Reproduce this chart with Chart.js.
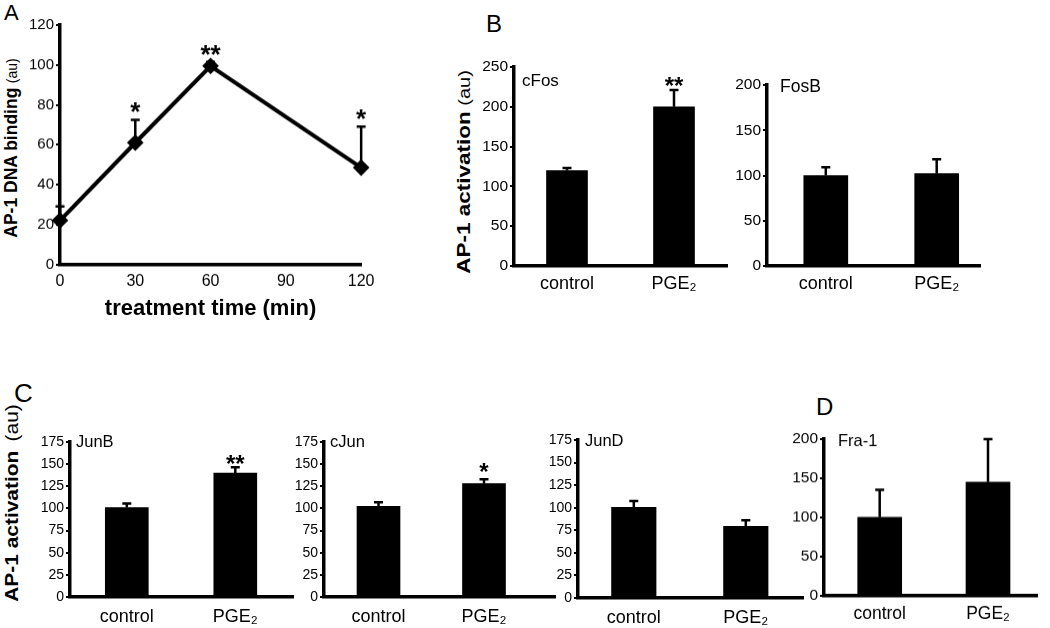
<!DOCTYPE html>
<html>
<head>
<meta charset="utf-8">
<script src="https://cdn.jsdelivr.net/npm/chart.js@4.4.1/dist/chart.umd.min.js"></script>
<style>
  body { margin: 0; background: #fff; }
  #fig { position: relative; width: 1050px; height: 628px; overflow: hidden; font-family: 'Liberation Sans', Arial, sans-serif; color: #000; }
  .box { position: absolute; }
  .letter { position: absolute; line-height: 1; }
  .ytitle { position: absolute; white-space: nowrap; line-height: 1; }
  .ytitle b { font-weight: bold; }
  .ytitle span { font-weight: normal; }
</style>
</head>
<body>
<div id="fig">
  <div class="letter" style="left:4px;top:2px;font-size:22px">A</div>
  <div class="letter" style="left:486px;top:12px;font-size:24px">B</div>
  <div class="letter" style="left:14px;top:380px;font-size:26px">C</div>
  <div class="letter" style="left:816px;top:395px;font-size:24px">D</div>

  <div class="ytitle" style="left:12px;top:148px;transform:translate(-50%,-50%) rotate(-90deg)">
    <b style="font-size:17.5px">AP-1 DNA binding</b> <span style="font-size:14px">(au)</span></div>
  <div class="ytitle" style="left:464px;top:172px;transform:translate(-50%,-50%) rotate(-90deg) scaleX(1.25)">
    <b style="font-size:18px">AP-1 activation</b> <span style="font-size:16px">(au)</span></div>
  <div class="ytitle" style="left:11px;top:503px;transform:translate(-50%,-50%) rotate(-90deg) scaleX(1.1)">
    <b style="font-size:19px">AP-1 activation</b> <span style="font-size:19px;margin-left:4px">(au)</span></div>

  <div class="box" id="boxA"><canvas id="chartA"></canvas></div>
  <div class="box" id="boxCFos"><canvas id="chartCFos"></canvas></div>
  <div class="box" id="boxFosB"><canvas id="chartFosB"></canvas></div>
  <div class="box" id="boxJunB"><canvas id="chartJunB"></canvas></div>
  <div class="box" id="boxCJun"><canvas id="chartCJun"></canvas></div>
  <div class="box" id="boxJunD"><canvas id="chartJunD"></canvas></div>
  <div class="box" id="boxFra1"><canvas id="chartFra1"></canvas></div>
</div>
<script>
// A - AP-1 DNA binding over time
const timePoints = [0, 30, 60, 120];
const timeTicks = [0, 30, 60, 90, 120];
const bindingMean = [22, 61, 99.5, 48.5];
const bindingSd = [7, 11.5, 2, 20.5];
const bindingSig = ['', '*', '**', '*'];
const bindingTicks = [0, 20, 40, 60, 80, 100, 120];

// B, C, D - AP-1 activation, control vs PGE2
const groups = ['control', 'PGE\u2082'];
const cFosMean = [120, 200];
const cFosSd = [3, 21];
const cFosSig = ['', '**'];
const fosBMean = [100, 102];
const fosBSd = [9, 16];
const fosBSig = ['', ''];
const junBMean = [101, 140];
const junBSd = [4.5, 6.5];
const junBSig = ['', '**'];
const cJunMean = [102.5, 128];
const cJunSd = [4.5, 5];
const cJunSig = ['', '*'];
const junDMean = [100.5, 79.5];
const junDSd = [7, 6.5];
const junDSig = ['', ''];
const fra1Mean = [100, 145];
const fra1Sd = [35, 55];
const fra1Sig = ['', ''];
const ticks250 = [0, 50, 100, 150, 200, 250];
const ticks200 = [0, 50, 100, 150, 200];
const ticks175 = [0, 25, 50, 75, 100, 125, 150, 175];

const SANS = "'Liberation Sans', Arial, sans-serif";
const YW = 50, PT = 14, PR = 8;

// error bars, stars and the little name in the corner
function marks(sds, sigs, o) {
  return {
    id: 'marks',
    afterDatasetsDraw(chart) {
      const ctx = chart.ctx, ys = chart.scales.y;
      const pts = chart.getDatasetMeta(0).data;
      const vals = chart.data.datasets[0].data;
      ctx.save();
      ctx.strokeStyle = '#000';
      ctx.fillStyle = '#000';
      pts.forEach((el, i) => {
        const top = ys.getPixelForValue(vals[i].y + sds[i]);
        ctx.lineWidth = o.errW;
        ctx.beginPath();
        ctx.moveTo(el.x, el.y);
        ctx.lineTo(el.x, top);
        ctx.moveTo(el.x - o.cap / 2, top);
        ctx.lineTo(el.x + o.cap / 2, top);
        ctx.stroke();
        if (sigs[i]) {
          ctx.font = 'bold ' + o.starSize + 'px ' + SANS;
          ctx.textAlign = 'center';
          ctx.textBaseline = 'alphabetic';
          ctx.fillText(sigs[i], el.x, top + o.starDy);
        }
      });
      if (o.name) {
        ctx.font = o.nameSize + 'px ' + SANS;
        ctx.textAlign = 'left';
        ctx.textBaseline = 'middle';
        ctx.fillText(o.name, chart.chartArea.left + o.nameDx, chart.chartArea.top + o.nameDy);
      }
      ctx.restore();
    }
  };
}

function place(boxId, g, xh) {
  const box = document.getElementById(boxId);
  const left = g.left - YW, top = g.top - PT;
  box.style.left = left + 'px';
  box.style.top = top + 'px';
  box.style.width = (g.right - left + PR) + 'px';
  box.style.height = (g.bottom - top + xh) + 'px';
}

function yAxis(ticks, font, max) {
  return {
    min: 0, max: max,
    afterBuildTicks: (ax) => { ax.ticks = ticks.map(v => ({ value: v })); },
    afterFit: (ax) => { ax.width = YW; },
    ticks: { color: '#000', font: font, padding: 2 },
    grid: { drawOnChartArea: false, drawTicks: true, tickLength: 4, color: '#000', lineWidth: 2 },
    border: { display: true, color: '#000', width: 3.5 }
  };
}

function barPanel(boxId, canvasId, name, means, sds, sigs, yTicks, g) {
  const XH = 40;
  place(boxId, g, XH);
  const ppu = g.c1 - g.c0;
  new Chart(document.getElementById(canvasId), {
    type: 'bar',
    data: {
      datasets: [{
        data: means.map((m, i) => ({ x: i, y: m })),
        backgroundColor: '#000',
        borderWidth: 0,
        barThickness: g.barW
      }]
    },
    options: {
      responsive: true,
      maintainAspectRatio: false,
      animation: false,
      layout: { padding: { top: PT, right: PR, left: 0, bottom: 0 } },
      plugins: { legend: { display: false }, tooltip: { enabled: false } },
      scales: {
        x: {
          type: 'linear',
          offset: false,
          min: -(g.c0 - g.left) / ppu,
          max: 1 + (g.right - g.c1) / ppu,
          afterBuildTicks: (ax) => { ax.ticks = groups.map((c, i) => ({ value: i })); },
          afterFit: (ax) => { ax.height = XH; },
          ticks: { color: '#000', font: g.catFont, padding: g.catPad, maxRotation: 0, callback: (v) => groups[v] },
          grid: { display: false, drawTicks: false },
          border: { display: true, color: '#000', width: 3.5 }
        },
        y: yAxis(yTicks, g.tickFont, yTicks[yTicks.length - 1])
      }
    },
    plugins: [marks(sds, sigs, { errW: 2.5, cap: 9, starSize: 24, starDy: g.starDy, name: name,
      nameSize: g.nameSize, nameDx: g.nameDx, nameDy: g.nameDy })]
  });
}

// panel A
(function () {
  const g = { left: 59.5, right: 373, top: 25, bottom: 263.5 };
  const XH = 58;
  place('boxA', g, XH);
  new Chart(document.getElementById('chartA'), {
    type: 'line',
    data: {
      datasets: [{
        data: bindingMean.map((m, i) => ({ x: timePoints[i], y: m })),
        borderColor: '#000',
        borderWidth: 4,
        tension: 0,
        pointStyle: 'rectRot',
        pointRadius: 5.5,
        pointBackgroundColor: '#000',
        pointBorderColor: '#000',
        clip: false
      }]
    },
    options: {
      responsive: true,
      maintainAspectRatio: false,
      animation: false,
      layout: { padding: { top: PT, right: PR, left: 0, bottom: 0 } },
      plugins: { legend: { display: false }, tooltip: { enabled: false } },
      scales: {
        x: {
          type: 'linear',
          min: 0, max: 120,
          afterBuildTicks: (ax) => { ax.ticks = timeTicks.map(v => ({ value: v })); },
          afterFit: (ax) => { ax.height = XH; },
          ticks: { color: '#000', font: { family: SANS, size: 16 }, padding: 7, maxRotation: 0 },
          grid: { display: false, drawTicks: false },
          border: { display: true, color: '#000', width: 3.5 },
          title: { display: true, text: 'treatment time (min)', color: '#000',
            font: { family: SANS, size: 22, weight: 'bold' }, padding: { top: 2, bottom: 0 } }
        },
        y: yAxis(bindingTicks, { family: SANS, size: 15 }, 120)
      }
    },
    plugins: [marks(bindingSd, bindingSig, { errW: 2.5, cap: 9, starSize: 26, starDy: 1 })]
  });
})();

const fontB = { tickFont: { family: SANS, size: 15.5 }, catFont: { family: SANS, size: 18 }, catPad: 7 };
const fontC = { tickFont: { family: SANS, size: 14 }, catFont: { family: SANS, size: 18 }, catPad: 9 };
const fontD = { tickFont: { family: SANS, size: 15.5 }, catFont: { family: SANS, size: 17.5 }, catPad: 8 };

barPanel('boxCFos', 'chartCFos', 'cFos', cFosMean, cFosSd, cFosSig, ticks250, Object.assign({
  left: 513.5, right: 727, top: 67, bottom: 266, c0: 566.5, c1: 673.5, barW: 41,
  starDy: 4, nameSize: 17, nameDx: 8, nameDy: 14 }, fontB));
barPanel('boxFosB', 'chartFosB', 'FosB', fosBMean, fosBSd, fosBSig, ticks200, Object.assign({
  left: 767, right: 980, top: 85, bottom: 266, c0: 825.8, c1: 936.7, barW: 44,
  starDy: 4, nameSize: 17.5, nameDx: 13, nameDy: 2 }, fontB));
barPanel('boxJunB', 'chartJunB', 'JunB', junBMean, junBSd, junBSig, ticks175, Object.assign({
  left: 69.7, right: 293, top: 442, bottom: 597, c0: 126.5, c1: 235, barW: 43,
  starDy: 5, nameSize: 16.5, nameDx: 6, nameDy: 0 }, fontC));
barPanel('boxCJun', 'chartCJun', 'cJun', cJunMean, cJunSd, cJunSig, ticks175, Object.assign({
  left: 324, right: 555, top: 442, bottom: 597, c0: 378.5, c1: 484, barW: 43,
  starDy: 1, nameSize: 16.5, nameDx: 6, nameDy: 0 }, fontC));
barPanel('boxJunD', 'chartJunD', 'JunD', junDMean, junDSd, junDSig, ticks175, Object.assign({
  left: 578, right: 803, top: 440, bottom: 598, c0: 633.8, c1: 745.8, barW: 44.5,
  starDy: 1, nameSize: 16.5, nameDx: 7, nameDy: 1 }, fontC));
barPanel('boxFra1', 'chartFra1', 'Fra-1', fra1Mean, fra1Sd, fra1Sig, ticks200, Object.assign({
  left: 824, right: 1037, top: 439, bottom: 594.7, c0: 879.7, c1: 988, barW: 44,
  starDy: 1, nameSize: 16.5, nameDx: 14, nameDy: 2 }, fontD));
</script>
</body>
</html>
